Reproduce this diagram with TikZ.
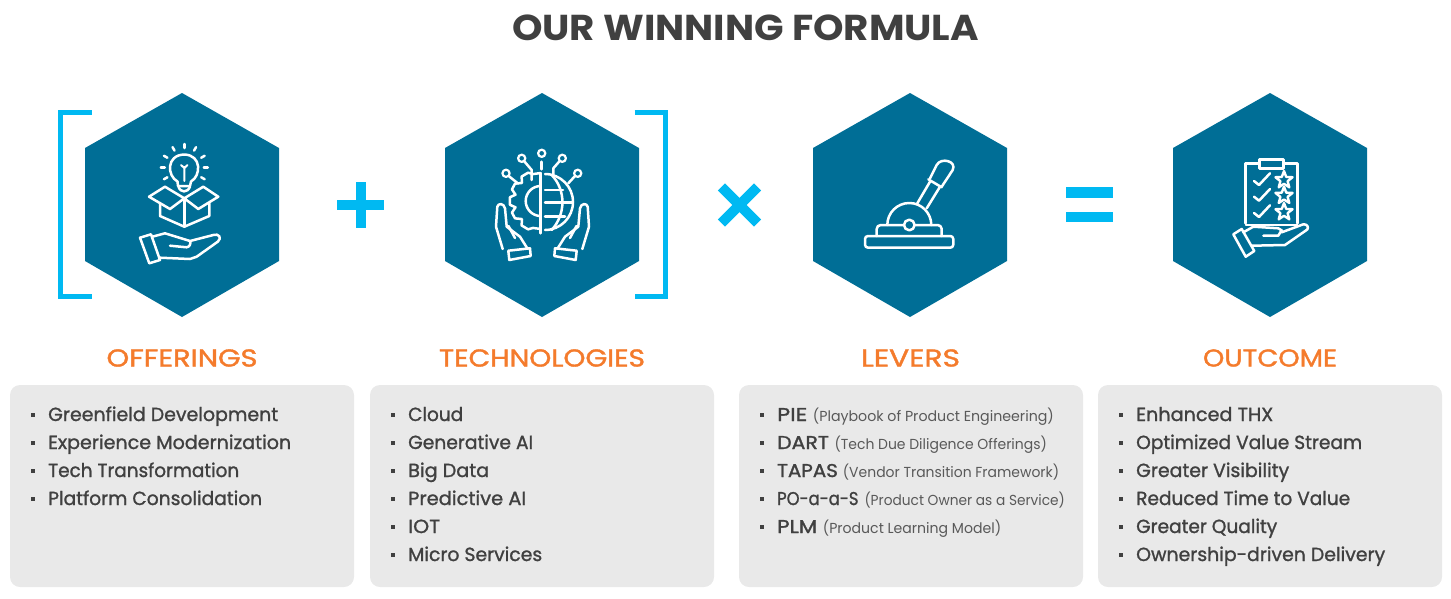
\documentclass[tikz,border=0pt]{standalone}
\usetikzlibrary{calc}
\usepackage{fontspec}
\usepackage{graphicx}
\setmainfont{Poppins}
\newfontfamily\medf{Poppins}[RawFeature={embolden=1.2}]
\newfontfamily\semif{Poppins}[RawFeature={embolden=1.4}]
\definecolor{hexblue}{HTML}{006E96}
\definecolor{cyanmark}{HTML}{00B9F2}
\definecolor{headorange}{HTML}{F47B2C}
\definecolor{panelgrey}{HTML}{E9E9E9}
\definecolor{inkgrey}{HTML}{404040}
\definecolor{softgrey}{HTML}{595959}
\tikzset{
  hexa/.style={fill=hexblue,draw=none},
  panel/.style={fill=panelgrey,draw=none,rounded corners=10pt},
  ico/.style={draw=white,line width=2.5pt,line join=round,line cap=round},
  brack/.style={draw=cyanmark,line width=5pt,line cap=butt,line join=miter},
  heading/.style={font=\semif\fontsize{24.5}{26}\selectfont,text=headorange,inner sep=0pt},
  item/.style={font=\medf\fontsize{19}{22}\selectfont,text=inkgrey,anchor=base west,inner sep=0pt},
  bul/.style={fill=inkgrey,draw=none,minimum size=4pt,inner sep=0pt,shape=rectangle},
  opsign/.style={fill=cyanmark,draw=none}
}
\newcommand{\wide}[2]{\resizebox{#1pt}{\height}{#2}}
\newcommand{\lev}[5]{\makebox[#1pt][l]{\wide{#2}{\semif\fontsize{18.5}{22}\selectfont #3}}\wide{#5}{\normalfont\fontsize{14.5}{18}\selectfont\color{softgrey}(#4)}}
\begin{document}
\begin{tikzpicture}[x=1pt,y=-1pt]
\useasboundingbox (0,0) rectangle (1451,598);
\node[font=\bfseries\fontsize{36}{40}\selectfont,text=inkgrey,inner sep=0pt] (title) at (745.5,28) {\wide{467}{OUR WINNING FORMULA}};
% hexagons
\foreach \cx/\nm in {182/a,542/b,910/c,1270/d}{
  \fill[hexa] (\cx,93) -- (\cx+97,148) -- (\cx+97,261) -- (\cx,317) -- (\cx-97,261) -- (\cx-97,148) -- cycle;
}
% brackets
\draw[brack] (91.5,112.5) -- (60.5,112.5) -- (60.5,296.5) -- (91.5,296.5);
\draw[brack] (634.5,112.5) -- (665.5,112.5) -- (665.5,296.5) -- (634.5,296.5);
% operators
\fill[opsign] (337.3,200) rectangle (384.3,210);
\fill[opsign] (355.8,181.7) rectangle (365.8,228.3);
\fill[opsign,rotate around={45:(739.5,205)}] (714,200) rectangle (765,210);
\fill[opsign,rotate around={45:(739.5,205)}] (734.5,179.5) rectangle (744.5,230.5);
\fill[opsign] (1066,187.3) rectangle (1112.5,197.5);
\fill[opsign] (1066,211.5) rectangle (1112.5,221.7);
% icon 1
\draw[ico] (177.5,181.5) .. controls (167,176) and (166,155) .. (184.3,154.5) .. controls (202,155) and (201,176) .. (191,181.5) -- (190,186) -- (178,186) -- cycle;
\draw[ico,line width=2pt] (184.3,181) -- (184.3,167) (181,165) -- (184.3,168) -- (187.5,165);
\draw[ico] (178.5,186.5) .. controls (180,193) and (188,193) .. (190,186.5);
\foreach \a in {-180,-150,-120,-90,-60,-30,0,30,150}{
  \draw[ico] ($(184.3,167.5)+(\a:19.5)$) -- ($(184.3,167.5)+(\a:23.5)$);
}
\draw[ico] (184.3,198.3) -- (165,186.7) -- (149,196.7) -- (170,209) -- cycle;
\draw[ico] (184.3,198.3) -- (203.3,186.7) -- (218.3,196.7) -- (198.3,209) -- cycle;
\draw[ico] (160,203.3) -- (160,216) -- (184.3,226.7) -- (209.3,216) -- (209.3,203.3);
\draw[ico] (184.3,198.3) -- (184.3,226.7);
\draw[ico] (140,237.7) -- (151,234.3) -- (160,260) -- (149.3,263.3) -- cycle;
\draw[ico] (152.3,236.7) -- (165,233.3) -- (190,241) -- (213.3,235) .. controls (219,233) and (222,238) .. (218,241.5) -- (196.7,256.7) -- (190,259) -- (160,257.7);
\draw[ico] (170,245.7) -- (186.7,247.3) .. controls (190,247) and (191,243) .. (190,241);
% icon 2
\draw[ico] (540.7,173.3) -- (540.7,233.3);
\draw[ico] (541.7,161.7) -- (541.7,169.3);
\foreach \p in {(541.7,153.3),(521.7,158.3),(506,173.3),(562.3,158.3),(577.7,173.3)}{
  \draw[ico,line width=2.2pt] \p circle[radius=3.6];
}
\draw[ico] (524,161) -- (531.7,170) -- (531.7,180);
\draw[ico] (508.7,176) -- (518,183.5);
\draw[ico] (559.7,161) -- (553.3,168.3) -- (553.3,175);
\draw[ico] (575,176) -- (568.3,183.3);
\begin{scope}[shift={(540.7,201)}]
  \draw[ico] (-90:28) -- (-106:28) -- (-114:31) -- (-128:31) -- (-136:26) -- (-146:31) -- (-158:31) -- (-166:26) -- (-173:31) -- (-187:31) -- (-194:26) -- (-202:31) -- (-214:31) -- (-224:26) -- (-232:31) -- (-246:31) -- (-254:28) -- (-270:28);
  \draw[ico] (0,-15) arc[start angle=-90,end angle=-270,radius=15];
\end{scope}
\draw[ico] (545,174) arc[start angle=-90,end angle=90,radius=28];
\draw[ico] (545,190) -- (563,190) (545,202.7) -- (571.7,202.7) (545,216.7) -- (565,216.7);
\draw[ico] (551.7,175) .. controls (566,190) and (566,214) .. (551.7,230);
\foreach \sc/\sh in {1/0,-1/1085}{
\begin{scope}[shift={(\sh,0)},xscale=\sc]
  \draw[ico] (508.3,250.7) -- (530,248.3) -- (530.7,256) -- (509.3,260) -- cycle;
  \draw[ico] (502.7,249) -- (496,226.7) -- (497.3,206.7) .. controls (498,203) and (504,203) .. (505,208.3) -- (506.7,226.7) -- (520,236.7) -- (527.3,248.3);
  \draw[ico] (508.5,226) -- (515,238);
\end{scope}}
% icon 3
\draw[ico,rounded corners=3pt] (865,236) rectangle (953.3,247.7);
\draw[ico,rounded corners=4pt] (876.7,236) -- (876.7,225) -- (941.7,225) -- (941.7,236);
\draw[ico] (887.3,225) arc[start angle=180,end angle=360,radius=22];
\draw[ico,fill=hexblue] (909.3,225) circle[radius=5.3];
\draw[ico] (917.3,203.3) -- (930,181.7) (926.7,208.3) -- (940,186.7);
\draw[ico] (928.3,179.3) -- (941.7,187.3);
\draw[ico] (930,178.3) -- (936.7,165) .. controls (941,157) and (957,161) .. (952.7,170) -- (941.7,186.7);
% icon 4
\draw[ico] (1245.7,223.3) -- (1245.7,163.3) -- (1297.3,163.3) -- (1297.3,223.3) (1246,225) -- (1297,225);
\draw[ico,fill=hexblue] (1259.3,159.3) rectangle (1283.3,168.3);
\foreach \dy in {0,15.7,32}{
  \draw[ico] (1254,181+\dy) -- (1259,185+\dy) -- (1270,173.3+\dy);
  \draw[ico,line width=2.4pt] ($(1284,180+\dy)+(-90:9)$) -- ($(1284,180+\dy)+(-54:3.8)$) -- ($(1284,180+\dy)+(-18:9)$) -- ($(1284,180+\dy)+(18:3.8)$) -- ($(1284,180+\dy)+(54:9)$) -- ($(1284,180+\dy)+(90:3.8)$) -- ($(1284,180+\dy)+(126:9)$) -- ($(1284,180+\dy)+(162:3.8)$) -- ($(1284,180+\dy)+(198:9)$) -- ($(1284,180+\dy)+(234:3.8)$) -- cycle;
}
\draw[ico] (1233.3,234.3) -- (1241.7,229) -- (1254.3,251) -- (1245.7,256.7) -- cycle;
\draw[ico] (1243.3,232.3) -- (1253.3,226.7) -- (1278.3,228.3) .. controls (1281,229) and (1282,231) .. (1281.7,232.3) -- (1303.3,224.3) .. controls (1307,224) and (1309,227) .. (1307.3,229.5) -- (1285,245) -- (1251.7,245.7);
\draw[ico] (1263.3,235.7) -- (1278.3,235.7) -- (1281.7,230);
% headings
\node[heading] (h1) at (182,358) {\wide{151}{OFFERINGS}};
\node[heading] (h2) at (542,358) {\wide{206}{TECHNOLOGIES}};
\node[heading] (h3) at (910.5,358) {\wide{99}{LEVERS}};
\node[heading] (h4) at (1270,358) {\wide{134}{OUTCOME}};
% panels
\fill[panel] (10,385) rectangle (354,587);
\fill[panel] (370,385) rectangle (714,587);
\fill[panel] (739,385) rectangle (1083,587);
\fill[panel] (1098,385) rectangle (1442,587);
% lists
\foreach \y/\w/\t [count=\i] in {421/230/Greenfield Development,449/243/Experience Modernization,477/191/Tech Transformation,505/214/Platform Consolidation}{
  \node[bul] (ba\i) at (33,\y-6) {};
  \node[item] (ta\i) at (48,\y) {\wide{\w}{\t}};
}
\foreach \y/\w/\t [count=\i] in {421/55/Cloud,449/125/Generative AI,477/81/Big Data,505/118/Predictive AI,533/32/IOT,561/134/Micro Services}{
  \node[bul] (bb\i) at (393,\y-6) {};
  \node[item] (tb\i) at (408,\y) {\wide{\w}{\t}};
}
\foreach \y/\g/\w/\a/\b/\v [count=\i] in {421/35.7/30/PIE/Playbook of Product Engineering/241,449/57.3/51.7/DART/Tech Due Diligence Offerings/212.4,477/65.7/60.7/TAPAS/Vendor Transition Framework/216.3,505/87.3/81.3/PO-a-a-S/Product Owner as a Service/200.4,533/45.7/40/PLM/Product Learning Model/178.3}{
  \node[bul] (bc\i) at (761.5,\y-6) {};
  \node[item] (tc\i) at (777,\y) {\lev{\g}{\w}{\a}{\b}{\v}};
}
\foreach \y/\w/\t [count=\i] in {421/137/Enhanced THX,449/226/Optimized Value Stream,477/153/Greater Visibility,505/214/Reduced Time to Value,533/141/Greater Quality,561/249/Ownership-driven Delivery}{
  \node[bul] (bd\i) at (1121,\y-6) {};
  \node[item] (td\i) at (1136,\y) {\wide{\w}{\t}};
}
\end{tikzpicture}
\end{document}
